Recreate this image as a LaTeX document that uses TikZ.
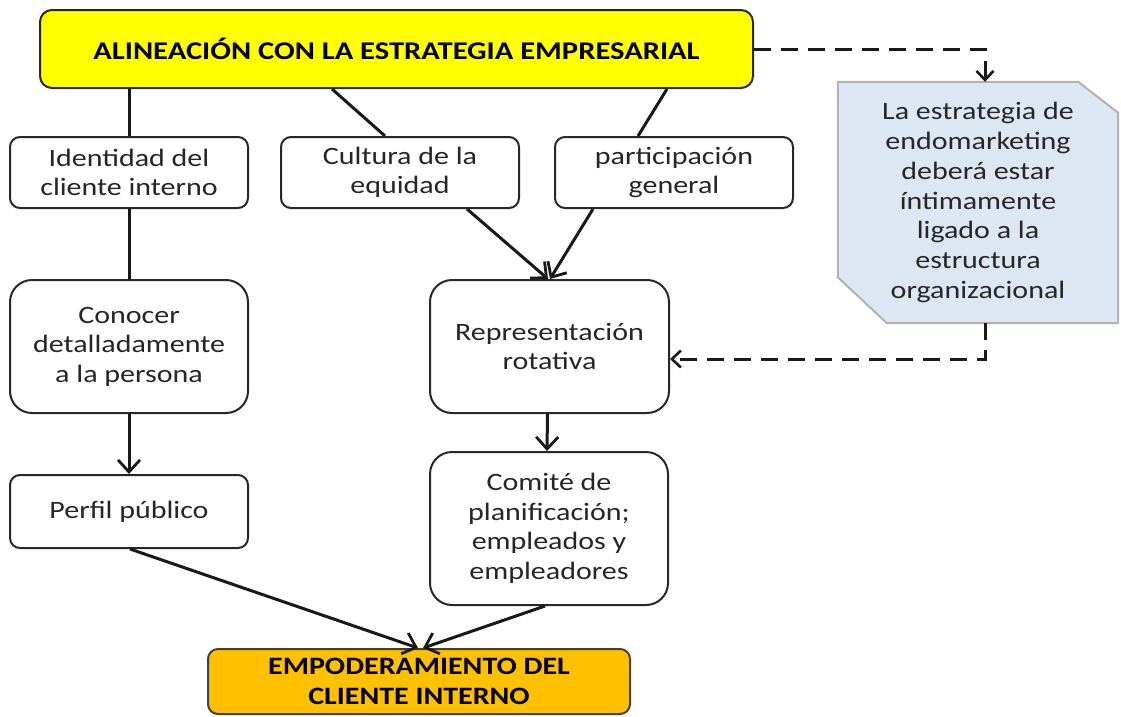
\documentclass[tikz,border=0pt]{standalone}
\usepackage{fontspec}
\setmainfont{Carlito}[FakeStretch=1.2]
\usetikzlibrary{arrows.meta,backgrounds}
\definecolor{topyellow}{RGB}{255,255,0}
\definecolor{empoorange}{RGB}{255,192,0}
\definecolor{noteblue}{RGB}{221,231,243}
\definecolor{boxline}{RGB}{40,40,40}
\tikzset{
  box/.style={draw=boxline, line width=2pt, fill=white, rounded corners=10pt,
    align=center, font=\fontsize{25}{29.5}\selectfont, text=black!85, inner sep=0pt},
  bigbox/.style={box, rounded corners=22pt},
  conn/.style={line width=3pt, draw=black!90},
  arr/.style={conn, -{Straight Barb[length=12pt,width=22pt,line width=2.8pt]}},
  dasharr/.style={line width=3pt, draw=black!90, dash pattern=on 17pt off 10pt,
    -{Straight Barb[length=9pt,width=17pt,line width=2.6pt]}},
  notetext/.style={align=center, font=\fontsize{25}{29.7}\selectfont, text=black!85, inner sep=0pt},
  notebox/.style={draw=black!30, line width=2pt, fill=noteblue},
}
\begin{document}
\begin{tikzpicture}[x=1pt,y=-1pt]
\useasboundingbox (0,0) rectangle (1121,716);
% nodes
\node[box, fill=topyellow, rounded corners=12pt, minimum width=713pt, minimum height=78pt,
  font=\fontsize{25.5}{29}\bfseries\selectfont, text=black] (top) at (396.5,49)
  {ALINEACIÓN CON LA ESTRATEGIA EMPRESARIAL};
\node[box, minimum width=238pt, minimum height=71pt] (ident) at (129,172.5) {Identidad del\\cliente interno};
\node[box, minimum width=238pt, minimum height=71pt] (cult) at (400,172.5) {Cultura de la\\equidad};
\node[box, minimum width=238pt, minimum height=71pt] (part) at (674,172.5) {participación\\general};
\node[bigbox, minimum width=238pt, minimum height=133pt] (conoc) at (129,346.5) {Conocer\\detalladamente\\a la persona};
\node[bigbox, minimum width=239pt, minimum height=133pt] (rep) at (549.5,346.5) {Representación\\rotativa};
\node[box, minimum width=238pt, minimum height=73pt] (perf) at (129,511.5) {Perfil público};
\node[bigbox, minimum width=238pt, minimum height=153pt] (comi) at (549,528.5) {Comité de\\planificación;\\empleados y\\empleadores};
\node[box, fill=empoorange, draw=black!75, rounded corners=10pt, minimum width=422pt, minimum height=65pt,
  font=\fontsize{25}{30}\bfseries\selectfont, text=black] (empo) at (419,681.5)
  {EMPODERAMIENTO DEL\\CLIENTE INTERNO};
\node[notetext, minimum width=280pt, minimum height=241pt] (note) at (978,202.5)
  {La estrategia de\\endomarketing\\deberá estar\\íntimamente\\ligado a la\\estructura\\organizacional};
\begin{scope}[on background layer]
\draw[notebox] (note.north west) -- ([xshift=-40pt]note.north east) -- ([yshift=-31pt]note.north east)
  -- (note.south east) -- ([xshift=49pt]note.south west) -- ([yshift=46pt]note.south west) -- cycle;
\end{scope}
% connectors
\draw[conn] (top.south -| ident.north) -- (ident.north);
\draw[conn] ([xshift=-64.5pt]top.south) -- ([xshift=-15pt]cult.north);
\draw[conn] ([xshift=270.5pt]top.south) -- ([xshift=-36pt]part.north);
\draw[conn] (ident.south) -- (conoc.north);
\draw[arr] (conoc.south) -- (perf.north);
\draw[arr] ([xshift=67pt]cult.south) -- ([xshift=-1.5pt]rep.north);
\draw[arr] ([xshift=-81pt]part.south) -- ([xshift=0.5pt]rep.north);
\draw[arr] ([xshift=-2pt]rep.south) -- ([xshift=-2pt]comi.north);
\draw[arr] ([xshift=1pt]perf.south) -- ([xshift=-1pt]empo.north);
\draw[arr] ([xshift=-4pt]comi.south) -- ([xshift=4pt]empo.north);
\draw[dasharr] (top.east) -| ([xshift=7pt]note.north);
\draw[dasharr] ([xshift=7pt]note.south) |- ([yshift=-12.5pt]rep.east);
\end{tikzpicture}
\end{document}
